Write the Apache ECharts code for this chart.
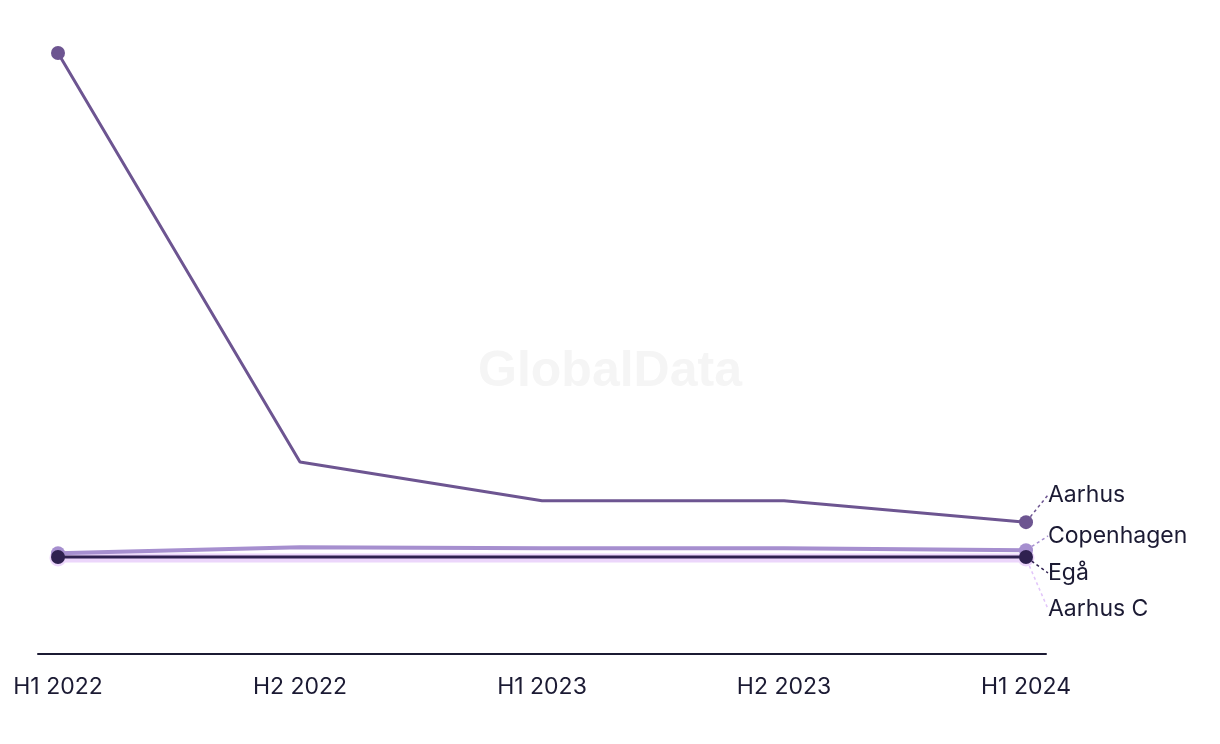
<!DOCTYPE html>
<html>
<head>
<meta charset="utf-8">
<script src="https://cdn.jsdelivr.net/npm/echarts@6/dist/echarts.min.js"></script>
<style>
  html, body { margin: 0; padding: 0; background: #fff; }
  #chart { width: 1220px; height: 744px; }
</style>
</head>
<body>
<div id="chart"></div>
<script>
var categories = ['H1 2022', 'H2 2022', 'H1 2023', 'H2 2023', 'H1 2024'];

var aarhus = [620, 198, 158, 158, 136];
var copenhagen = [104, 110, 109, 109, 107];
var ega = [100, 100, 100, 100, 100];
var aarhusC = [99, 99, 99, 99, 99];

var names = ['Aarhus C', 'Copenhagen', 'Egå', 'Aarhus'];
var values = [aarhusC, copenhagen, ega, aarhus];
var colors = ['#ecd6fb', '#a68fcf', '#2f2150', '#6d5591'];
var leaderColors = ['#e2c6fa', '#a68fcf', '#2f2150', '#6d5591'];
var widths = [9, 4, 3, 3];
var dots = [17, 14, 14, 14];
// where each end label sits (text centre y)
var labelY = [609, 536, 573, 495];

var myChart = echarts.init(document.getElementById('chart'));

var series = [];
for (var i = 0; i < names.length; i++) {
    (function (i) {
        var last = values[i].length - 1;
        // dots only on the first and last point, name label only on the last
        var data = values[i].map(function (v, k) {
            var edge = (k === 0 || k === last);
            return {
                value: v,
                symbol: edge ? 'circle' : 'none',
                label: { show: k === last },
                labelLine: { show: k === last }
            };
        });
        series.push({
            name: names[i],
            type: 'line',
            data: data,
            symbolSize: dots[i],
            showAllSymbol: true,
            lineStyle: { color: colors[i], width: widths[i] },
            itemStyle: { color: colors[i] },
            z: 2 + i,
            label: {
                show: false,
                formatter: names[i],
                color: '#1b1a33',
                fontFamily: 'Inter',
                fontSize: 23
            },
            labelLine: {
                show: false,
                lineStyle: { color: leaderColors[i], type: [3, 3], width: 1.5 }
            },
            labelLayout: function (p) {
                if (p.dataIndex !== last) return {};
                return { x: 1048, y: labelY[i], align: 'left', verticalAlign: 'middle' };
            },
            emphasis: { disabled: true }
        });
    })(i);
}

// empty series on the second grid, only so its axis line gets drawn
series.push({
    type: 'line',
    xAxisIndex: 1,
    yAxisIndex: 1,
    data: [],
    silent: true
});

var option = {
    animation: false,
    backgroundColor: '#fff',
    graphic: [{
        type: 'text',
        left: 'center',
        top: 347,
        z: 0,
        style: {
            text: 'GlobalData',
            fill: '#f5f5f5',
            font: 'bold 50px "Liberation Sans"'
        }
    }],
    grid: [
        { left: 58, right: 194, top: 53, bottom: 90 },
        { left: 38, right: 174, top: 53, bottom: 90 }
    ],
    xAxis: [{
        type: 'category',
        data: categories,
        boundaryGap: false,
        axisLine: { show: false },
        axisTick: { show: false },
        axisLabel: {
            color: '#1b1a33',
            fontFamily: 'Inter',
            fontSize: 23,
            margin: 22,
            interval: 0
        }
    }, {
        gridIndex: 1,
        type: 'category',
        data: categories,
        axisLine: { lineStyle: { color: '#1b1a33', width: 2 } },
        axisTick: { show: false },
        axisLabel: { show: false }
    }],
    yAxis: [{
        type: 'value',
        min: 0,
        max: 620,
        show: false
    }, {
        gridIndex: 1,
        type: 'value',
        min: 0,
        max: 620,
        show: false
    }],
    series: series
};

myChart.setOption(option);
</script>
</body>
</html>
